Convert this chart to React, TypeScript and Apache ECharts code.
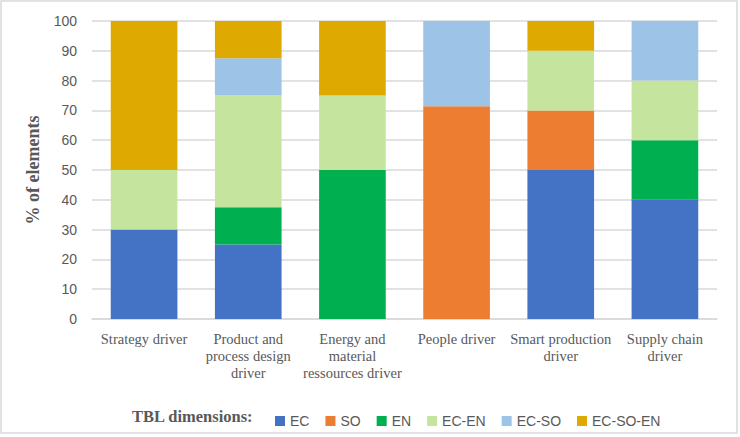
import React, { useEffect, useRef } from "react";
import * as echarts from "echarts";

const categories = [
  "Strategy driver",
  "Product and\nprocess design\ndriver",
  "Energy and\nmaterial\nressources driver",
  "People driver",
  "Smart production\ndriver",
  "Supply chain\ndriver",
];
const seriesNames = ["EC", "SO", "EN", "EC-EN", "EC-SO", "EC-SO-EN"];
const EC = [30, 25, 0, 0, 50, 40];
const SO = [0, 0, 0, 71.4, 20, 0];
const EN = [0, 12.5, 50, 0, 0, 20];
const EC_EN = [20, 37.5, 25, 0, 20, 20];
const EC_SO = [0, 12.5, 0, 28.6, 0, 20];
const EC_SO_EN = [50, 12.5, 25, 0, 10, 0];
const yTicks = { min: 0, max: 100, interval: 10 };
const colors = ["#4472C4", "#ED7D31", "#00B050", "#C5E59E", "#9DC3E6", "#DEA900"];

export default function App() {
  const ref = useRef<HTMLDivElement>(null);
  useEffect(() => {
    const chart = echarts.init(ref.current!, null, { renderer: "svg" });
    const data = [EC, SO, EN, EC_EN, EC_SO, EC_SO_EN];
    chart.setOption({
      animation: false,
      backgroundColor: "#ffffff",
      grid: { left: 92, right: 23, top: 21, bottom: 118 },
      legend: {
        left: 270,
        top: 409,
        itemWidth: 10,
        itemHeight: 10,
        itemGap: 16,
        icon: "rect",
        data: seriesNames,
        textStyle: { color: "#595959", fontSize: 14, fontFamily: "Liberation Sans" },
      },
      xAxis: {
        type: "category",
        data: categories,
        axisLine: { lineStyle: { color: "#d9d9d9", width: 1.5 } },
        axisTick: { show: false },
        axisLabel: {
          color: "#595959",
          fontSize: 14.5,
          fontFamily: "Liberation Serif",
          lineHeight: 17,
          margin: 11,
          interval: 0,
        },
      },
      yAxis: {
        type: "value",
        min: yTicks.min,
        max: yTicks.max,
        interval: yTicks.interval,
        name: "% of elements",
        nameLocation: "middle",
        nameGap: 50,
        nameTextStyle: {
          color: "#595959",
          fontSize: 18,
          fontWeight: "bold",
          fontFamily: "Liberation Serif",
        },
        axisLine: { show: false },
        axisTick: { show: false },
        axisLabel: { color: "#595959", fontSize: 14, fontFamily: "Liberation Sans", margin: 15 },
        splitLine: { lineStyle: { color: "#d9d9d9", width: 1.5 } },
      },
      series: seriesNames.map((n, i) => ({
        name: n,
        type: "bar",
        stack: "total",
        barWidth: "64%",
        data: data[i],
        itemStyle: { color: colors[i] },
      })),
      graphic: [
        {
          type: "rect",
          shape: { x: 1, y: 1, width: 736, height: 432 },
          style: { fill: "none", stroke: "#d9d9d9", lineWidth: 1.5 },
          silent: true,
        },
        {
          type: "text",
          x: 132,
          y: 416,
          style: {
            text: "TBL dimensions:",
            fill: "#595959",
            font: "bold 16.5px 'Liberation Serif'",
            verticalAlign: "middle",
          },
        },
      ],
    });
    return () => chart.dispose();
  }, []);
  return (
    <div
      ref={ref}
      style={{ position: "fixed", left: 0, top: 0, width: 740, height: 437 }}
    />
  );
}
